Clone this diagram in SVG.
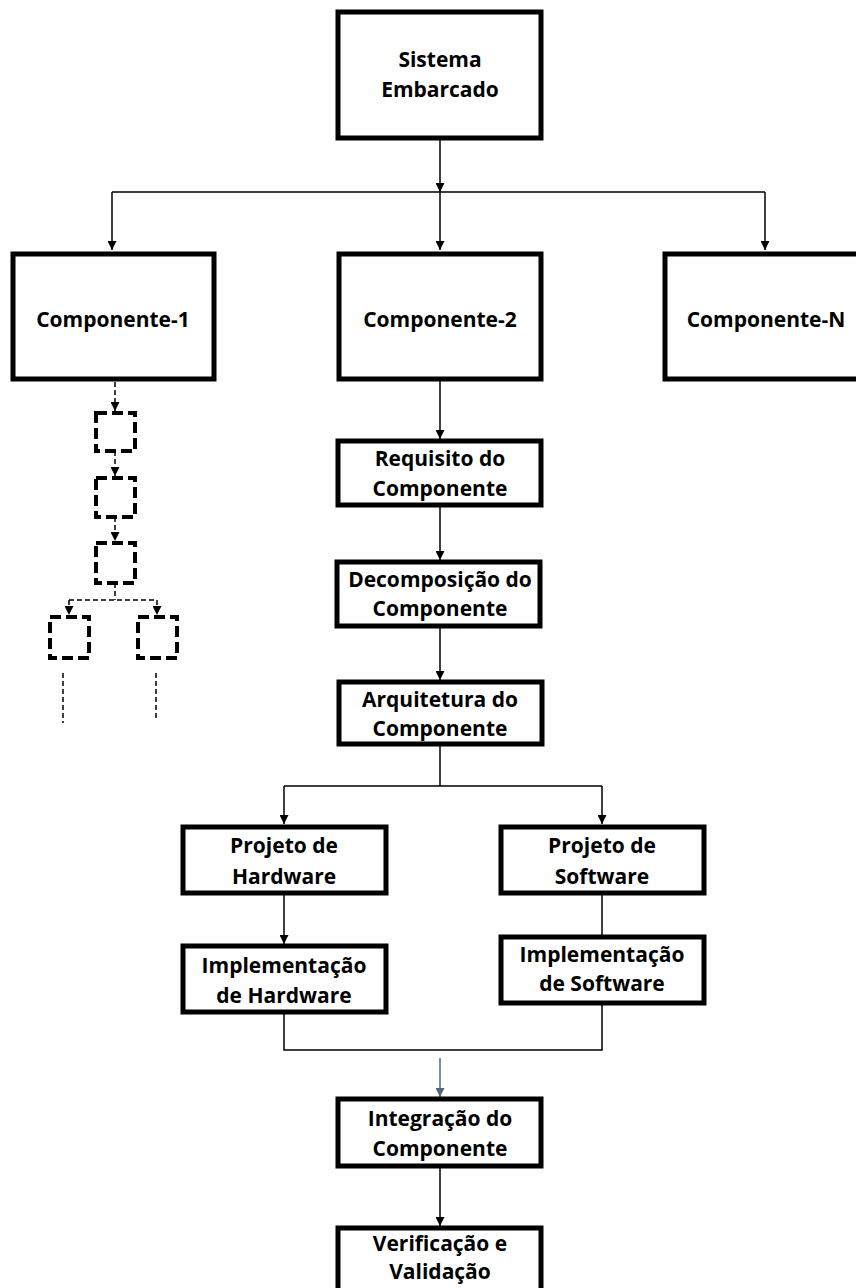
<svg xmlns="http://www.w3.org/2000/svg" width="856" height="1288" viewBox="0 0 856 1288">
<style>
.box{fill:#fff;stroke:#000;stroke-width:5}
.dbox{fill:none;stroke:#000;stroke-width:4;stroke-dasharray:11 5}
.t{font-family:"Open Sans",Lato,sans-serif;font-weight:bold;font-size:21px;fill:#000;text-anchor:middle}
.c{fill:none;stroke:#000;stroke-width:1.5}
.d{fill:none;stroke:#000;stroke-width:1.5;stroke-dasharray:5 3}
.g{fill:none;stroke:#56657a;stroke-width:1.5}
</style>
<defs>
<marker id="a" viewBox="0 0 10 10" refX="10" refY="5" markerWidth="9" markerHeight="9" markerUnits="userSpaceOnUse" orient="auto"><path d="M0,0L10,5L0,10z" fill="#000"/></marker>
<marker id="ag" viewBox="0 0 10 10" refX="10" refY="5" markerWidth="9" markerHeight="9" markerUnits="userSpaceOnUse" orient="auto"><path d="M0,0L10,5L0,10z" fill="#56657a"/></marker>
</defs>
<g id="connectors">
<path class="c" d="M440,140V192" marker-end="url(#a)"/>
<path class="c" d="M112,192H765"/>
<path class="c" d="M112,192V250" marker-end="url(#a)"/>
<path class="c" d="M440,192V250" marker-end="url(#a)"/>
<path class="c" d="M765,192V250" marker-end="url(#a)"/>
<path class="c" d="M440,380V439" marker-end="url(#a)"/>
<path class="c" d="M440,506V560" marker-end="url(#a)"/>
<path class="c" d="M440,627V680" marker-end="url(#a)"/>
<path class="c" d="M440,745V786M284,786H602"/>
<path class="c" d="M284,786V824" marker-end="url(#a)"/>
<path class="c" d="M602,786V824" marker-end="url(#a)"/>
<path class="c" d="M284,894V944" marker-end="url(#a)"/>
<path class="c" d="M602,894V944" marker-end="url(#a)"/>
<path class="c" d="M284,1013V1050H602V1004"/>
<path class="g" d="M440,1058V1097" marker-end="url(#ag)"/>
<path class="c" d="M440,1167V1226" marker-end="url(#a)"/>
<path class="d" d="M115,382V411" marker-end="url(#a)"/>
<path class="d" d="M115,451V476" marker-end="url(#a)"/>
<path class="d" d="M115,517V541" marker-end="url(#a)"/>
<path class="d" d="M115,583V600M69,600H157"/>
<path class="d" d="M69,600V615" marker-end="url(#a)"/>
<path class="d" d="M157,600V615" marker-end="url(#a)"/>
<path class="d" d="M63,673V723"/>
<path class="d" d="M156,673V720"/>
</g>
<g id="sistema"><rect class="box" x="338" y="12" width="203" height="126"/><text class="t" x="440" y="67">Sistema</text><text class="t" x="440" y="97">Embarcado</text></g>
<g id="comp1"><rect class="box" x="13" y="254" width="201" height="125"/><text class="t" x="113" y="327">Componente-1</text></g>
<g id="comp2"><rect class="box" x="339" y="254" width="202" height="125"/><text class="t" x="440" y="327">Componente-2</text></g>
<g id="compN"><rect class="box" x="665" y="254" width="200" height="125"/><text class="t" x="766" y="327">Componente-N</text></g>
<g id="req"><rect class="box" x="338" y="441" width="203" height="64"/><text class="t" x="440" y="466">Requisito do</text><text class="t" x="440" y="496">Componente</text></g>
<g id="decomp"><rect class="box" x="337" y="562" width="203" height="64"/><text class="t" x="440" y="587">Decomposição do</text><text class="t" x="440" y="616">Componente</text></g>
<g id="arq"><rect class="box" x="339" y="682" width="203" height="62"/><text class="t" x="440" y="707">Arquitetura do</text><text class="t" x="440" y="736">Componente</text></g>
<g id="projhw"><rect class="box" x="183" y="827" width="203" height="66"/><text class="t" x="284" y="853">Projeto de</text><text class="t" x="284" y="884">Hardware</text></g>
<g id="projsw"><rect class="box" x="501" y="827" width="203" height="66"/><text class="t" x="602" y="853">Projeto de</text><text class="t" x="602" y="884">Software</text></g>
<g id="implhw"><rect class="box" x="183" y="946" width="203" height="66"/><text class="t" x="284" y="973">Implementação</text><text class="t" x="284" y="1003">de Hardware</text></g>
<g id="implsw"><rect class="box" x="501" y="937" width="203" height="66"/><text class="t" x="602" y="962">Implementação</text><text class="t" x="602" y="991">de Software</text></g>
<g id="integ"><rect class="box" x="338" y="1099" width="203" height="67"/><text class="t" x="440" y="1126">Integração do</text><text class="t" x="440" y="1156">Componente</text></g>
<g id="verif"><rect class="box" x="338" y="1228" width="203" height="70"/><text class="t" x="440" y="1251">Verificação e</text><text class="t" x="440" y="1279">Validação</text></g>
<g id="sub1"><rect class="dbox" x="96" y="413" width="39" height="38"/></g>
<g id="sub2"><rect class="dbox" x="96" y="478" width="39" height="39"/></g>
<g id="sub3"><rect class="dbox" x="96" y="543" width="39" height="40"/></g>
<g id="sub4"><rect class="dbox" x="50" y="617" width="39" height="41"/></g>
<g id="sub5"><rect class="dbox" x="138" y="617" width="39" height="41"/></g>
</svg>
